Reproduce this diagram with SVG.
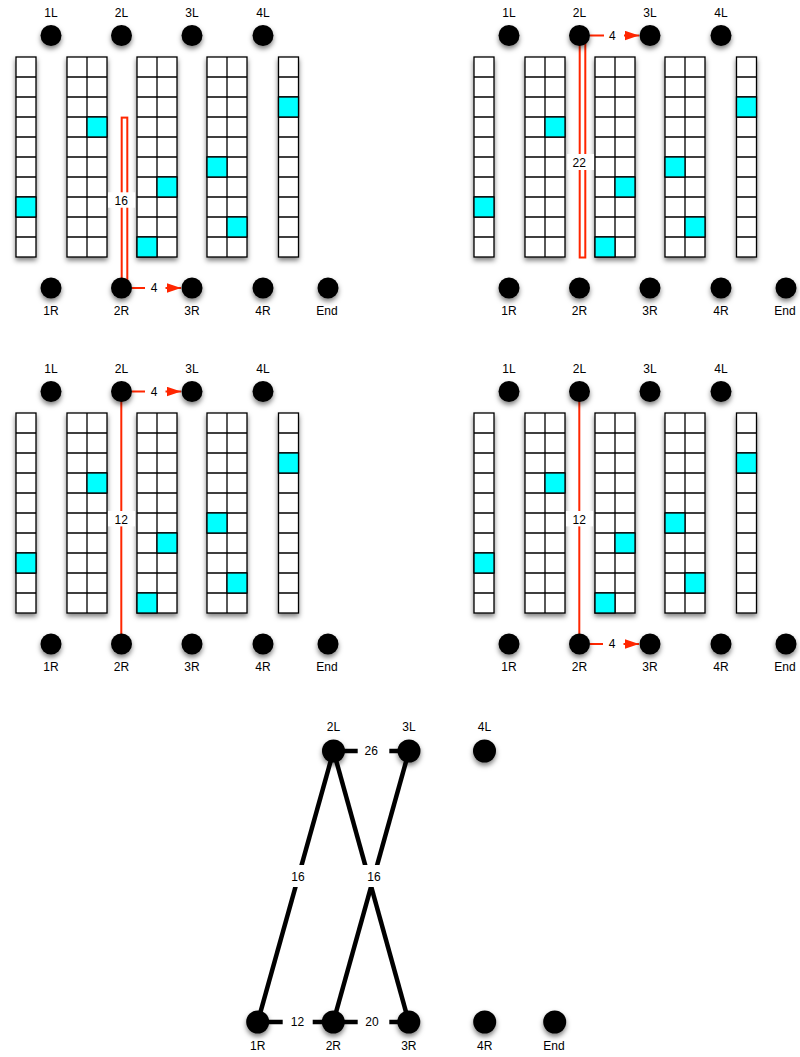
<svg xmlns="http://www.w3.org/2000/svg" xmlns:xlink="http://www.w3.org/1999/xlink" width="800" height="1057" viewBox="0 0 800 1057">
<style>
.lbl{font-family:"Liberation Sans",Arial,sans-serif;font-size:12px;text-anchor:middle;fill:#000}
.dot{fill:#000;filter:url(#sh)}
.col{fill:#fff;stroke:#000;stroke-width:1.3;filter:url(#sh)}
.grid{fill:none;stroke:#000;stroke-width:1.3}
.cy{fill:#00ffff;stroke:#000;stroke-width:1.3}
.red{fill:none;stroke:#ff2600;stroke-width:2}
.box{fill:#fff}
.edge{stroke:#000;stroke-width:4.5;fill:none}
</style>
<defs>
<filter id="sh" x="-50%" y="-50%" width="200%" height="200%">
<feDropShadow dx="0" dy="3" stdDeviation="2.5" flood-color="#000" flood-opacity="0.5"/>
</filter>
<marker id="ah" markerUnits="userSpaceOnUse" markerWidth="15" markerHeight="10" refX="14" refY="5" orient="auto">
<path d="M0,0.3 L14,5 L0,9.7 z" fill="#ff2600"/>
</marker>
<g id="c1">
<rect class="col" width="20" height="200"/>
<path class="grid" d="M0 20H20M0 40H20M0 60H20M0 80H20M0 100H20M0 120H20M0 140H20M0 160H20M0 180H20"/>
</g>
<g id="c2">
<rect class="col" width="40" height="200"/>
<path class="grid" d="M20 0V200M0 20H40M0 40H40M0 60H40M0 80H40M0 100H40M0 120H40M0 140H40M0 160H40M0 180H40"/>
</g>
<g id="cols">
<use xlink:href="#c1" x="16" y="57"/>
<use xlink:href="#c2" x="67" y="57"/>
<use xlink:href="#c2" x="137" y="57"/>
<use xlink:href="#c2" x="207" y="57"/>
<use xlink:href="#c1" x="278.5" y="57"/>
<rect class="cy" x="16" y="197" width="20" height="20"/>
<rect class="cy" x="87" y="117" width="20" height="20"/>
<rect class="cy" x="157" y="177" width="20" height="20"/>
<rect class="cy" x="137" y="237" width="20" height="20"/>
<rect class="cy" x="207" y="157" width="20" height="20"/>
<rect class="cy" x="227" y="217" width="20" height="20"/>
<rect class="cy" x="278.5" y="97" width="20" height="20"/>
</g>
</defs>
<rect width="800" height="1057" fill="#fff"/>

<!-- Panel top-left -->
<g id="panel-tl">
<use xlink:href="#cols"/>
<g id="tl-connectors">
<rect class="red" x="121.7" y="117.6" width="5.6" height="172"/>
<rect class="box" x="108" y="192.3" width="27" height="15.4"/>
<text class="lbl" x="121.3" y="205">16</text>
<line class="red" x1="132" y1="288" x2="181" y2="288" marker-end="url(#ah)"/>
<rect class="box" x="145" y="280" width="20.5" height="16"/>
<text class="lbl" x="154" y="292.3">4</text>
</g>
<g id="tl-1L"><circle class="dot" cx="51" cy="35.5" r="10.5"/><text class="lbl" x="51" y="16.5">1L</text></g>
<g id="tl-2L"><circle class="dot" cx="121.5" cy="35.5" r="10.5"/><text class="lbl" x="121.5" y="16.5">2L</text></g>
<g id="tl-3L"><circle class="dot" cx="192" cy="35.5" r="10.5"/><text class="lbl" x="192" y="16.5">3L</text></g>
<g id="tl-4L"><circle class="dot" cx="263" cy="35.5" r="10.5"/><text class="lbl" x="263" y="16.5">4L</text></g>
<g id="tl-1R"><circle class="dot" cx="51" cy="288" r="10.5"/><text class="lbl" x="51" y="315">1R</text></g>
<g id="tl-2R"><circle class="dot" cx="121.5" cy="288" r="10.5"/><text class="lbl" x="121.5" y="315">2R</text></g>
<g id="tl-3R"><circle class="dot" cx="192" cy="288" r="10.5"/><text class="lbl" x="192" y="315">3R</text></g>
<g id="tl-4R"><circle class="dot" cx="263" cy="288" r="10.5"/><text class="lbl" x="263" y="315">4R</text></g>
<g id="tl-End"><circle class="dot" cx="328" cy="288" r="10.5"/><text class="lbl" x="327" y="315">End</text></g>
</g>

<!-- Panel top-right -->
<g id="panel-tr" transform="translate(458,0)">
<use xlink:href="#cols"/>
<g id="tr-connectors">
<rect class="red" x="121.7" y="36" width="5.6" height="221.5"/>
<rect class="box" x="109.3" y="154" width="26.7" height="16"/>
<text class="lbl" x="121.3" y="167.3">22</text>
<line class="red" x1="132" y1="35.5" x2="181" y2="35.5" marker-end="url(#ah)"/>
<rect class="box" x="146" y="27.5" width="20" height="16"/>
<text class="lbl" x="154.3" y="39.8">4</text>
</g>
<g id="tr-1L"><circle class="dot" cx="51" cy="35.5" r="10.5"/><text class="lbl" x="51" y="16.5">1L</text></g>
<g id="tr-2L"><circle class="dot" cx="121.5" cy="35.5" r="10.5"/><text class="lbl" x="121.5" y="16.5">2L</text></g>
<g id="tr-3L"><circle class="dot" cx="192" cy="35.5" r="10.5"/><text class="lbl" x="192" y="16.5">3L</text></g>
<g id="tr-4L"><circle class="dot" cx="263" cy="35.5" r="10.5"/><text class="lbl" x="263" y="16.5">4L</text></g>
<g id="tr-1R"><circle class="dot" cx="51" cy="288" r="10.5"/><text class="lbl" x="51" y="315">1R</text></g>
<g id="tr-2R"><circle class="dot" cx="121.5" cy="288" r="10.5"/><text class="lbl" x="121.5" y="315">2R</text></g>
<g id="tr-3R"><circle class="dot" cx="192" cy="288" r="10.5"/><text class="lbl" x="192" y="315">3R</text></g>
<g id="tr-4R"><circle class="dot" cx="263" cy="288" r="10.5"/><text class="lbl" x="263" y="315">4R</text></g>
<g id="tr-End"><circle class="dot" cx="328" cy="288" r="10.5"/><text class="lbl" x="327" y="315">End</text></g>
</g>

<!-- Panel middle-left -->
<g id="panel-ml" transform="translate(0,356)">
<use xlink:href="#cols"/>
<g id="ml-connectors">
<line class="red" x1="121.3" y1="36" x2="121.3" y2="288" stroke-width="2.3"/>
<rect class="box" x="108" y="155" width="27" height="15.4"/>
<text class="lbl" x="121.3" y="167.7">12</text>
<line class="red" x1="132" y1="35.5" x2="181" y2="35.5" marker-end="url(#ah)"/>
<rect class="box" x="145" y="27.5" width="20.5" height="16"/>
<text class="lbl" x="154" y="39.8">4</text>
</g>
<g id="ml-1L"><circle class="dot" cx="51" cy="35.5" r="10.5"/><text class="lbl" x="51" y="16.5">1L</text></g>
<g id="ml-2L"><circle class="dot" cx="121.5" cy="35.5" r="10.5"/><text class="lbl" x="121.5" y="16.5">2L</text></g>
<g id="ml-3L"><circle class="dot" cx="192" cy="35.5" r="10.5"/><text class="lbl" x="192" y="16.5">3L</text></g>
<g id="ml-4L"><circle class="dot" cx="263" cy="35.5" r="10.5"/><text class="lbl" x="263" y="16.5">4L</text></g>
<g id="ml-1R"><circle class="dot" cx="51" cy="288" r="10.5"/><text class="lbl" x="51" y="315">1R</text></g>
<g id="ml-2R"><circle class="dot" cx="121.5" cy="288" r="10.5"/><text class="lbl" x="121.5" y="315">2R</text></g>
<g id="ml-3R"><circle class="dot" cx="192" cy="288" r="10.5"/><text class="lbl" x="192" y="315">3R</text></g>
<g id="ml-4R"><circle class="dot" cx="263" cy="288" r="10.5"/><text class="lbl" x="263" y="315">4R</text></g>
<g id="ml-End"><circle class="dot" cx="328" cy="288" r="10.5"/><text class="lbl" x="327" y="315">End</text></g>
</g>

<!-- Panel middle-right -->
<g id="panel-mr" transform="translate(458,356)">
<use xlink:href="#cols"/>
<g id="mr-connectors">
<line class="red" x1="121.3" y1="36" x2="121.3" y2="288" stroke-width="2.3"/>
<rect class="box" x="108" y="155" width="27" height="15.4"/>
<text class="lbl" x="121.3" y="167.7">12</text>
<line class="red" x1="132" y1="288" x2="181" y2="288" marker-end="url(#ah)"/>
<rect class="box" x="145" y="280" width="20.5" height="16"/>
<text class="lbl" x="154" y="292.3">4</text>
</g>
<g id="mr-1L"><circle class="dot" cx="51" cy="35.5" r="10.5"/><text class="lbl" x="51" y="16.5">1L</text></g>
<g id="mr-2L"><circle class="dot" cx="121.5" cy="35.5" r="10.5"/><text class="lbl" x="121.5" y="16.5">2L</text></g>
<g id="mr-3L"><circle class="dot" cx="192" cy="35.5" r="10.5"/><text class="lbl" x="192" y="16.5">3L</text></g>
<g id="mr-4L"><circle class="dot" cx="263" cy="35.5" r="10.5"/><text class="lbl" x="263" y="16.5">4L</text></g>
<g id="mr-1R"><circle class="dot" cx="51" cy="288" r="10.5"/><text class="lbl" x="51" y="315">1R</text></g>
<g id="mr-2R"><circle class="dot" cx="121.5" cy="288" r="10.5"/><text class="lbl" x="121.5" y="315">2R</text></g>
<g id="mr-3R"><circle class="dot" cx="192" cy="288" r="10.5"/><text class="lbl" x="192" y="315">3R</text></g>
<g id="mr-4R"><circle class="dot" cx="263" cy="288" r="10.5"/><text class="lbl" x="263" y="315">4R</text></g>
<g id="mr-End"><circle class="dot" cx="328" cy="288" r="10.5"/><text class="lbl" x="327" y="315">End</text></g>
</g>

<!-- Bottom graph -->
<g id="graph">
<g id="graph-connectors">
<line class="edge" x1="333.5" y1="751" x2="409" y2="751"/>
<line class="edge" x1="333.5" y1="751" x2="257.7" y2="1022"/>
<line class="edge" x1="333.5" y1="751" x2="408.8" y2="1022"/>
<line class="edge" x1="409" y1="751" x2="333.3" y2="1022"/>
<line class="edge" x1="257.7" y1="1022" x2="333.3" y2="1022"/>
<line class="edge" x1="333.3" y1="1022" x2="408.8" y2="1022"/>
<rect class="box" x="357.7" y="740" width="31.6" height="22"/>
<text class="lbl" x="371.3" y="755">26</text>
<rect class="box" x="282.5" y="865" width="31" height="22"/>
<text class="lbl" x="298" y="880.5">16</text>
<rect class="box" x="358.5" y="865" width="31" height="22"/>
<text class="lbl" x="374" y="880.5">16</text>
<rect class="box" x="282.7" y="1011" width="30" height="22"/>
<text class="lbl" x="297.5" y="1026.3">12</text>
<rect class="box" x="357.7" y="1011" width="31.6" height="22"/>
<text class="lbl" x="372" y="1026.3">20</text>
</g>
<g id="g-2L"><circle class="dot" cx="333.5" cy="751" r="11.5"/><text class="lbl" x="333.5" y="731">2L</text></g>
<g id="g-3L"><circle class="dot" cx="409" cy="751" r="11.5"/><text class="lbl" x="409" y="731">3L</text></g>
<g id="g-4L"><circle class="dot" cx="484.5" cy="751" r="11.5"/><text class="lbl" x="484.5" y="731">4L</text></g>
<g id="g-1R"><circle class="dot" cx="257.7" cy="1022" r="11.5"/><text class="lbl" x="257.7" y="1050">1R</text></g>
<g id="g-2R"><circle class="dot" cx="333.3" cy="1022" r="11.5"/><text class="lbl" x="333.3" y="1050">2R</text></g>
<g id="g-3R"><circle class="dot" cx="408.8" cy="1022" r="11.5"/><text class="lbl" x="408.8" y="1050">3R</text></g>
<g id="g-4R"><circle class="dot" cx="484.7" cy="1022" r="11.5"/><text class="lbl" x="484.7" y="1050">4R</text></g>
<g id="g-End"><circle class="dot" cx="554.7" cy="1022" r="11.5"/><text class="lbl" x="554" y="1050">End</text></g>
</g>
</svg>
